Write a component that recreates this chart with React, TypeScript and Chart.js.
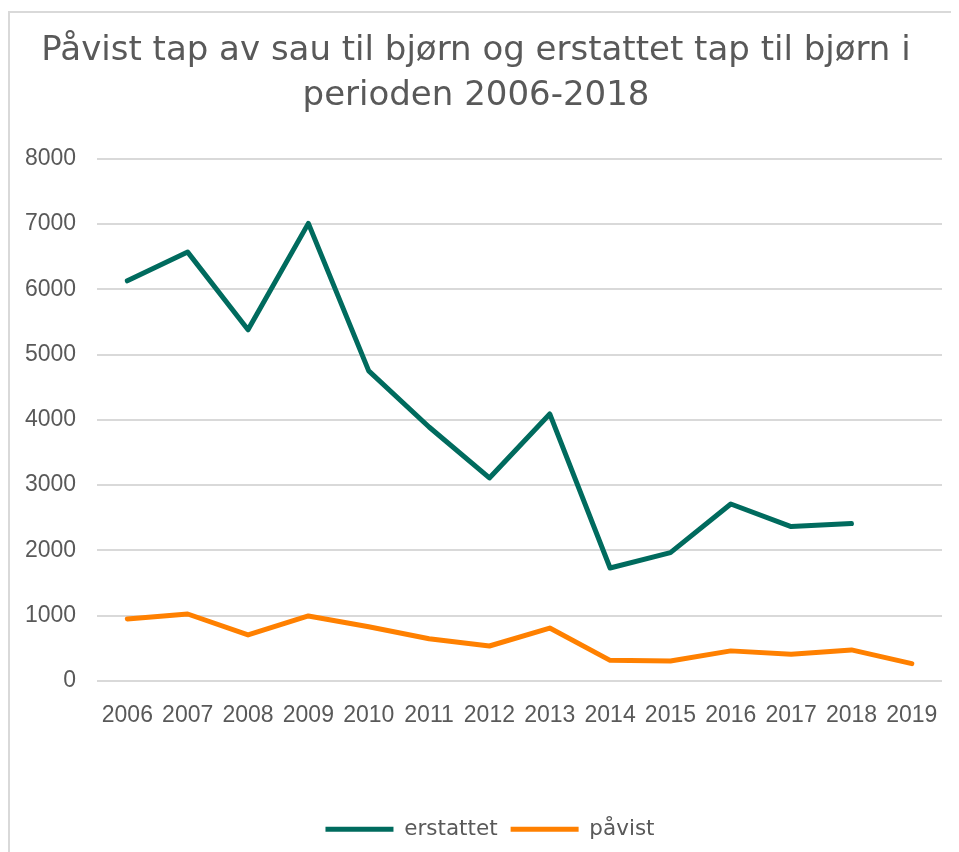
import React, { useEffect, useRef } from "react";
import { Chart, registerables } from "chart.js";

Chart.register(...registerables);

const years = ["2006", "2007", "2008", "2009", "2010", "2011", "2012", "2013", "2014", "2015", "2016", "2017", "2018", "2019"];
const erstattet = [6130, 6570, 5380, 7010, 4750, 3890, 3110, 4090, 1730, 1965, 2710, 2365, 2410, null];
const pavist = [950, 1025, 705, 995, 830, 645, 535, 810, 315, 305, 460, 410, 475, 265];
const yTicks = [0, 1000, 2000, 3000, 4000, 5000, 6000, 7000, 8000];
const titleLines = ["Påvist tap av sau til bjørn og erstattet tap til bjørn i", "perioden 2006-2018"];

const TICK_FONT = "'Liberation Sans', sans-serif";
const TITLE_FONT = "'DejaVu Sans', sans-serif";

const legendShift = {
  id: "legendShift",
  afterLayout(chart: any) {
    const lg = chart.legend;
    if (lg) {
      lg.left += 28;
    }
  },
};

export default function App() {
  const ref = useRef<HTMLCanvasElement | null>(null);

  useEffect(() => {
    document.documentElement.style.overflow = "hidden";
    document.body.style.overflow = "hidden";
    const canvas = ref.current;
    if (!canvas) return;
    const chart = new Chart(canvas, {
      type: "line",
      data: {
        labels: years,
        datasets: [
          {
            label: "erstattet",
            data: erstattet,
            borderColor: "#006b5e",
            backgroundColor: "#006b5e",
            borderWidth: 5,
            pointRadius: 0,
            borderCapStyle: "round",
            borderJoinStyle: "round",
            tension: 0,
            spanGaps: false,
          },
          {
            label: "påvist",
            data: pavist,
            borderColor: "#ff8000",
            backgroundColor: "#ff8000",
            borderWidth: 5,
            pointRadius: 0,
            borderCapStyle: "round",
            borderJoinStyle: "round",
            tension: 0,
          },
        ],
      },
      plugins: [legendShift],
      options: {
        animation: false,
        responsive: true,
        maintainAspectRatio: false,
        layout: { padding: { left: 0, right: 17, top: 0, bottom: 2 } },
        plugins: {
          title: {
            display: true,
            text: titleLines,
            color: "#595959",
            font: { family: TITLE_FONT, size: 34, weight: "normal", lineHeight: 1.32 },
            padding: { top: 16, bottom: 40 },
          },
          legend: {
            display: true,
            position: "bottom",
            labels: {
              usePointStyle: true,
              pointStyle: "line",
              pointStyleWidth: 68,
              boxHeight: 5,
              color: "#595959",
              font: { family: TITLE_FONT, size: 21.5 },
              padding: 13,
            },
          },
          tooltip: { enabled: false },
        },
        scales: {
          x: {
            offset: true,
            grid: { display: false, drawTicks: false },
            border: { display: false },
            ticks: { color: "#595959", font: { family: TICK_FONT, size: 23 }, padding: 21, maxRotation: 0, autoSkip: false },
            afterFit: (axis: any) => {
              axis.height += 55;
            },
          },
          y: {
            min: 0,
            max: 8000,
            afterBuildTicks: (axis: any) => {
              axis.ticks = yTicks.map((v) => ({ value: v }));
            },
            afterFit: (axis: any) => {
              axis.width -= 6;
            },
            grid: { color: "#d9d9d9", lineWidth: 2, drawTicks: false },
            border: { display: false },
            ticks: {
              color: "#595959",
              font: { family: TICK_FONT, size: 23 },
              padding: 21,
              callback: (v: any) => String(v),
            },
          },
        },
      },
    });
    return () => chart.destroy();
  }, []);

  return (
    <div
      style={{
        marginTop: 3,
        width: 951,
        height: 841,
        borderTop: "2px solid #d9d9d9",
        borderLeft: "2px solid #d9d9d9",
        boxSizing: "border-box",
        position: "relative",
      }}
    >
      <canvas ref={ref} />
    </div>
  );
}
